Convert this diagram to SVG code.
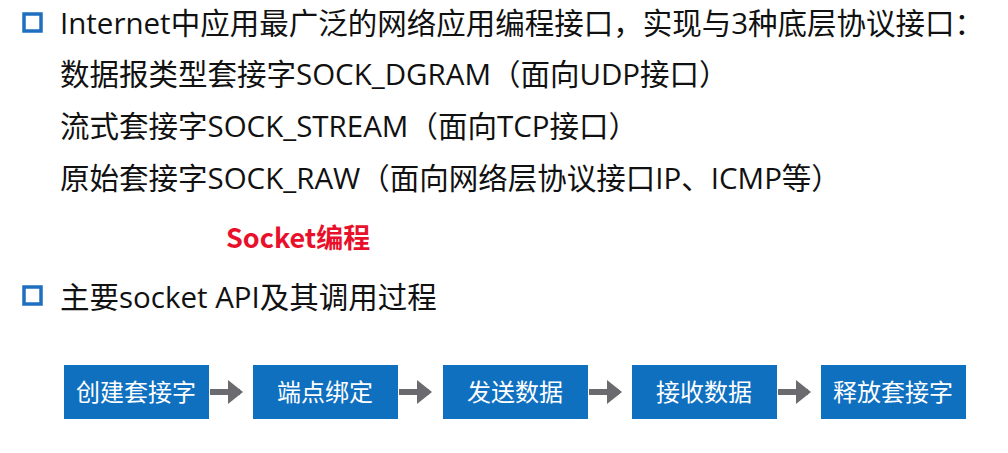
<svg xmlns="http://www.w3.org/2000/svg" width="1008" height="453" viewBox="0 0 1008 453">
<style>
.t{font-family:"Open Sans","Noto Sans CJK SC",sans-serif;font-size:29.5px;fill:#111}
.b{fill:#fff;stroke:#1f6fc0;stroke-width:3.5}
.box{fill:#1070c0}
.bt{font-family:"Noto Sans CJK SC",sans-serif;font-size:24px;fill:#fff;text-anchor:middle}
.ar{stroke:#6b6b6f;stroke-width:6;fill:none}
</style>
<defs><marker id="m" markerWidth="4" markerHeight="4" refX="2" refY="2" orient="auto" markerUnits="strokeWidth"><path d="M0,0 L2.5,2 L0,4 z" fill="#6b6b6f"/></marker></defs>
<rect class="b" x="24" y="14" width="17" height="17"/>
<text class="t" x="60" y="34">Internet中应用最广泛的网络应用编程接口，实现与3种底层协议接口：</text>
<text class="t" x="60" y="85">数据报类型套接字SOCK_DGRAM（面向UDP接口）</text>
<text class="t" x="60" y="137">流式套接字SOCK_STREAM（面向TCP接口）</text>
<text class="t" x="60" y="189">原始套接字SOCK_RAW（面向网络层协议接口IP、ICMP等）</text>
<text x="226" y="248" style="font-family:'Noto Sans CJK SC',sans-serif;font-size:27px;font-weight:bold;fill:#e8102a">Socket编程</text>
<rect class="b" x="24" y="287" width="17" height="17"/>
<text class="t" x="60" y="308">主要socket API及其调用过程</text>
<g id="connectors">
<line class="ar" x1="210" y1="392" x2="240" y2="392" marker-end="url(#m)"/>
<line class="ar" x1="399" y1="392" x2="429" y2="392" marker-end="url(#m)"/>
<line class="ar" x1="589" y1="392" x2="619" y2="392" marker-end="url(#m)"/>
<line class="ar" x1="778" y1="392" x2="808" y2="392" marker-end="url(#m)"/>
</g>
<g id="n1"><rect class="box" x="64" y="365" width="145" height="54"/><text class="bt" x="136" y="401">创建套接字</text></g>
<g id="n2"><rect class="box" x="253" y="365" width="145" height="54"/><text class="bt" x="325" y="401">端点绑定</text></g>
<g id="n3"><rect class="box" x="443" y="365" width="145" height="54"/><text class="bt" x="515" y="401">发送数据</text></g>
<g id="n4"><rect class="box" x="632" y="365" width="145" height="54"/><text class="bt" x="704" y="401">接收数据</text></g>
<g id="n5"><rect class="box" x="821" y="365" width="145" height="54"/><text class="bt" x="893" y="401">释放套接字</text></g>
</svg>
